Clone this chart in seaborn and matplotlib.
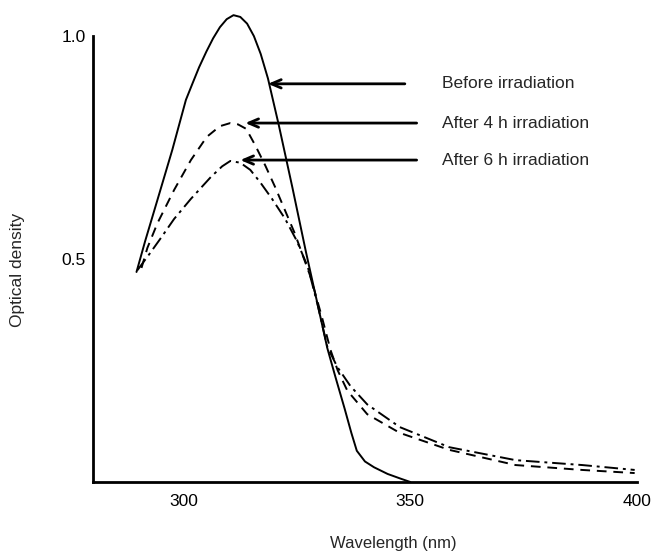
import pandas as pd
import matplotlib.pyplot as plt
import seaborn as sns

# Valores
wl_before = [289.6, 291.5, 294.2, 297.5, 300.5, 302.0, 303.4, 305.0, 306.5, 308.0,
             309.5, 311.0, 312.5, 314.0, 315.5, 317.0, 318.6, 321.0, 324.0, 327.0,
             329.3, 331.7, 333.5, 335.5, 337.0, 338.2, 340.0, 342.0, 345.0, 348.0,
             350.0]
od_before = [0.471, 0.540, 0.632, 0.745, 0.857, 0.895, 0.930, 0.965, 0.995, 1.020,
             1.038, 1.047, 1.043, 1.028, 1.000, 0.960, 0.905, 0.800, 0.660, 0.515,
             0.410, 0.300, 0.235, 0.165, 0.110, 0.070, 0.046, 0.033, 0.018, 0.007,
             0.0]

wl_4h = [290.7, 292.0, 294.2, 297.9, 301.6, 305.1, 308.0, 310.3, 312.0, 313.8,
         315.8, 318.0, 320.2, 324.5, 328.0, 330.5, 332.4, 334.0, 336.1, 340.5,
         347.7, 358.6, 373.2, 387.9, 399.5]
od_4h = [0.480, 0.525, 0.580, 0.655, 0.722, 0.774, 0.798, 0.805, 0.802, 0.792,
         0.755, 0.710, 0.661, 0.558, 0.460, 0.370, 0.296, 0.250, 0.205, 0.152,
         0.110, 0.072, 0.038, 0.027, 0.020]

wl_6h = [289.8, 292.5, 295.1, 297.9, 301.6, 306.0, 308.5, 310.3, 312.5, 314.7,
         316.9, 319.5, 322.4, 325.0, 327.4, 329.5, 331.7, 333.9, 336.8, 340.5,
         347.7, 358.6, 373.2, 387.9, 399.5]
od_6h = [0.475, 0.512, 0.549, 0.590, 0.635, 0.684, 0.708, 0.720, 0.716, 0.700,
         0.672, 0.635, 0.590, 0.540, 0.482, 0.400, 0.303, 0.258, 0.215, 0.174,
         0.123, 0.078, 0.049, 0.038, 0.027]

labels = ["Before irradiation", "After 4 h irradiation", "After 6 h irradiation"]
label_y = [0.893, 0.805, 0.722]
arrow_tail_x = [348.8, 351.4, 351.4]
arrow_head_x = [318.6, 313.6, 312.5]

df = pd.concat([
    pd.DataFrame({"wl": wl_before, "od": od_before, "serie": labels[0]}),
    pd.DataFrame({"wl": wl_4h, "od": od_4h, "serie": labels[1]}),
    pd.DataFrame({"wl": wl_6h, "od": od_6h, "serie": labels[2]}),
], ignore_index=True)

sns.set_style("white")
plt.rcParams["font.family"] = ["Liberation Sans", "DejaVu Sans"]

fig = plt.figure(figsize=(6.53, 5.54), dpi=100)
ax = fig.add_axes([0.1424, 0.13, 0.833, 0.87])

sns.lineplot(data=df, x="wl", y="od", style="serie", color="black",
             dashes={labels[0]: "", labels[1]: (5, 3.5), labels[2]: (7, 2.5, 1.5, 2.5)},
             sort=False, estimator=None, linewidth=1.4, legend=False, ax=ax)

# Flechas y etiquetas
for lab, y, xt, xh in zip(labels, label_y, arrow_tail_x, arrow_head_x):
    ax.annotate("", xy=(xh, y), xytext=(xt, y),
                arrowprops=dict(arrowstyle="->,head_length=0.7,head_width=0.3",
                                color="black", lw=2.0, shrinkA=0, shrinkB=0))
    ax.text(356.9, y, lab, fontsize=12.5, va="center", ha="left")

ax.set_xlim(280, 400)
ax.set_ylim(0, 1.081)
ax.set_xticks([300, 350, 400])
ax.set_yticks([0.5, 1.0])
ax.set_yticklabels(["0.5", "1.0"])
ax.tick_params(direction="in", length=5, width=1.5, labelsize=12.5, colors="black")
ax.tick_params(axis="x", pad=9)
ax.tick_params(axis="y", pad=5)

for s in ["top", "right"]:
    ax.spines[s].set_visible(False)
ax.spines["left"].set_bounds(0, 1.0)
ax.spines["bottom"].set_bounds(280, 400)
for s in ["left", "bottom"]:
    ax.spines[s].set_linewidth(2.0)
    ax.spines[s].set_color("black")

ax.set_xlabel("Wavelength (nm)", fontsize=12)
ax.set_ylabel("Optical density", fontsize=12.5)
ax.xaxis.set_label_coords(0.553, -0.112)
ax.yaxis.set_label_coords(-0.125, 0.44)

fig.savefig("out.png", dpi=100)
plt.close(fig)
